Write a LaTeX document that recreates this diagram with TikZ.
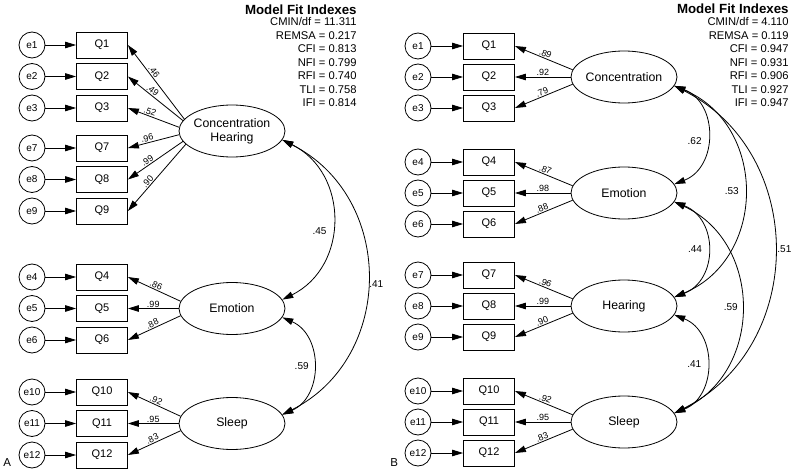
\documentclass[tikz,border=0pt]{standalone}
\usepackage{fontspec}
\setmainfont{Liberation Sans}
\usetikzlibrary{shapes.geometric,arrows.meta}
\begin{document}
\begin{tikzpicture}[x=1pt,y=-1pt,
  line width=0.8pt,
  >={Triangle[length=11pt,width=6.5pt]},
  err/.style={circle,draw,minimum size=26pt,inner sep=0pt,font=\fontsize{10}{12}\selectfont},
  obs/.style={rectangle,draw,minimum width=51pt,minimum height=26pt,inner sep=0pt,font=\fontsize{11}{13}\selectfont},
  lat/.style={ellipse,draw,minimum width=106pt,minimum height=52pt,inner xsep=-2pt,inner ysep=0pt,align=center,font=\fontsize{12.3}{14}\selectfont},
  ld/.style={font=\fontsize{9}{10}\selectfont,sloped,above=1pt,inner sep=0pt},
  cv/.style={font=\fontsize{10}{12}\selectfont,inner sep=0pt},
  fitline/.style={anchor=base east,inner sep=0pt,font=\fontsize{11.2}{13}\selectfont},
  fittitle/.style={anchor=base east,inner sep=0pt,font=\fontsize{13.3}{15}\selectfont\bfseries},
  panel/.style={anchor=base west,inner sep=0pt,font=\fontsize{11.5}{13}\selectfont}]
\useasboundingbox (0,0) rectangle (800,476);

% ---------------- Panel A ----------------
\foreach \i/\y in {1/45,2/76.5,3/108,7/148,8/179.5,9/211,4/277,5/308.5,6/340,10/392,11/423.5,12/455} {
  \node[err] (Ae\i) at (32,\y) {e\i};
  \node[obs] (AQ\i) at (102,\y) {Q\i};
  \draw[->] (Ae\i) -- (AQ\i);
}
\node[lat] (ACH) at (232,131) {Concentration\\Hearing};
\node[lat] (AEm) at (232,308.5) {Emotion};
\node[lat] (ASl) at (232,423.5) {Sleep};

\foreach \a/\q/\v in {166/1/.46,168/2/.49,176/3/.52,184/7/.96,192/8/.99,196/9/.90}
  \draw[->] (ACH.\a) -- node[ld,pos=.6]{\v} (AQ\q.east);
\foreach \a/\q/\v in {172/4/.86,180/5/.99,188/6/.88}
  \draw[->] (AEm.\a) -- node[ld,pos=.5]{\v} (AQ\q.east);
\foreach \a/\q/\v in {172/10/.92,180/11/.95,188/12/.83}
  \draw[->] (ASl.\a) -- node[ld,pos=.5]{\v} (AQ\q.east);

\draw[<->] (ACH.-10) .. controls +(67,33) and +(67,-33) .. node[cv,pos=.56,left=5pt]{.45} (AEm.10);
\draw[<->] (ACH.-10) .. controls +(113,57) and +(113,-57) .. node[cv,pos=.52,right=2pt]{.41} (ASl.10);
\draw[<->] (AEm.-10) .. controls +(41,18) and +(41,-18) .. node[cv,pos=.5,left=4pt]{.59} (ASl.10);

\node[fittitle] (Ati) at (357,15) {Model Fit Indexes};
\node[fitline] (Af1) at (357,26) {CMIN/df = 11.311};
\node[fitline] (Af2) at (357,39.5) {REMSA = 0.217};
\node[fitline] (Af3) at (357,53) {CFI = 0.813};
\node[fitline] (Af4) at (357,66.5) {NFI = 0.799};
\node[fitline] (Af5) at (357,80) {RFI = 0.740};
\node[fitline] (Af6) at (357,93.5) {TLI = 0.758};
\node[fitline] (Af7) at (357,107) {IFI = 0.814};
\node[panel] (Alab) at (3,466) {A};

% ---------------- Panel B ----------------
\foreach \i/\y in {1/46,2/77,3/108,4/162,5/193,6/224,7/275,8/306,9/337,10/391,11/422,12/453} {
  \node[err] (Be\i) at (418,\y) {e\i};
  \node[obs] (BQ\i) at (489,\y) {Q\i};
  \draw[->] (Be\i) -- (BQ\i);
}
\node[lat] (BCo) at (624,77) {Concentration};
\node[lat] (BEm) at (624,193) {Emotion};
\node[lat] (BHe) at (624,306) {Hearing};
\node[lat] (BSl) at (624,422) {Sleep};

\foreach \a/\q/\v in {172/1/.89,180/2/.92,188/3/.79}
  \draw[->] (BCo.\a) -- node[ld,pos=.5]{\v} (BQ\q.east);
\foreach \a/\q/\v in {172/4/.87,180/5/.98,188/6/.88}
  \draw[->] (BEm.\a) -- node[ld,pos=.5]{\v} (BQ\q.east);
\foreach \a/\q/\v in {172/7/.96,180/8/.99,188/9/.90}
  \draw[->] (BHe.\a) -- node[ld,pos=.5]{\v} (BQ\q.east);
\foreach \a/\q/\v in {172/10/.92,180/11/.95,188/12/.83}
  \draw[->] (BSl.\a) -- node[ld,pos=.5]{\v} (BQ\q.east);

\draw[<->] (BCo.-10) .. controls +(44,17) and +(44,-17) .. node[cv,pos=.55,left=5pt]{.62} (BEm.10);
\draw[<->] (BCo.-10) .. controls +(93,39) and +(93,-39) .. node[cv,pos=.5,left=5pt]{.53} (BHe.10);
\draw[<->] (BCo.-10) .. controls +(133,67) and +(133,-67) .. node[cv,pos=.5,right=3pt]{.51} (BSl.10);
\draw[<->] (BEm.-10) .. controls +(44,17) and +(44,-17) .. node[cv,pos=.5,left=5pt]{.44} (BHe.10);
\draw[<->] (BEm.-10) .. controls +(89,41) and +(89,-41) .. node[cv,pos=.5,left=3pt]{.59} (BSl.10);
\draw[<->] (BHe.-10) .. controls +(43,17) and +(43,-17) .. node[cv,pos=.5,left=5pt]{.41} (BSl.10);

\node[fittitle] (Bti) at (789,14) {Model Fit Indexes};
\node[fitline] (Bf1) at (789,26) {CMIN/df = 4.110};
\node[fitline] (Bf2) at (789,39.5) {REMSA = 0.119};
\node[fitline] (Bf3) at (789,53) {CFI = 0.947};
\node[fitline] (Bf4) at (789,66.5) {NFI = 0.931};
\node[fitline] (Bf5) at (789,80) {RFI = 0.906};
\node[fitline] (Bf6) at (789,93.5) {TLI = 0.927};
\node[fitline] (Bf7) at (789,107) {IFI = 0.947};
\node[panel] (Blab) at (390,466) {B};
\end{tikzpicture}
\end{document}
